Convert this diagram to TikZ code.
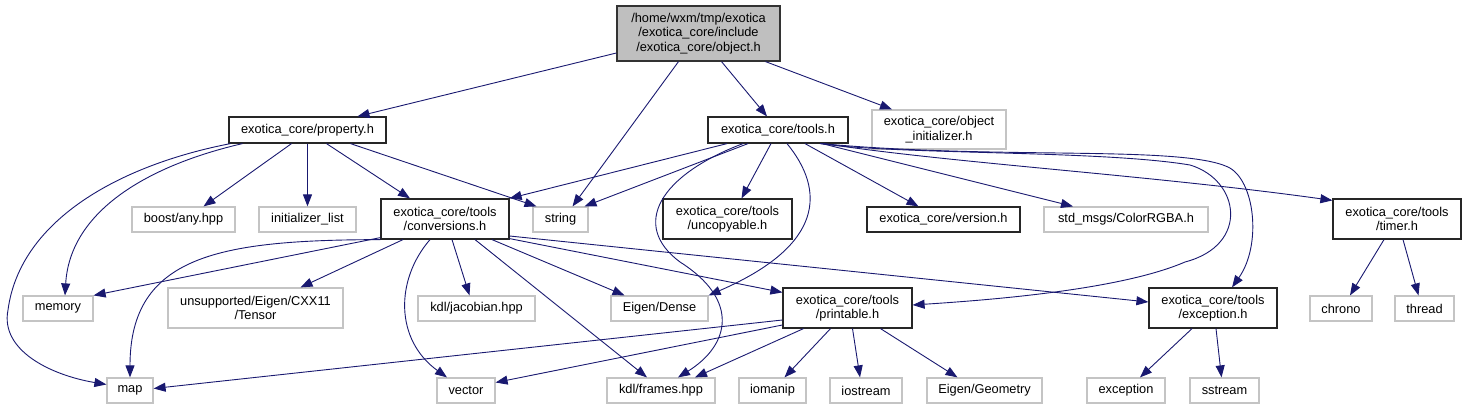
\documentclass[tikz,border=0pt]{standalone}
\usepackage{fontspec}
\setmainfont{Liberation Sans}
\usetikzlibrary{arrows.meta}
\definecolor{edgecol}{HTML}{191970}
\definecolor{undoc}{HTML}{C4C4C4}
\definecolor{rootfill}{HTML}{BFBFBF}
\tikzset{
  box/.style={draw, rectangle, inner sep=0pt, align=center, line width=1.2pt,
    font=\fontsize{12.8}{14.5}\selectfont, text=black},
  docbox/.style={box, draw=black!85},
  undocbox/.style={box, draw=undoc},
  rootbox/.style={box, draw=black!80, fill=rootfill},
  dep/.style={draw=edgecol, line width=0.9pt, -{Triangle[length=12pt,width=9pt]}, color=edgecol},
}
\begin{document}
\begin{tikzpicture}[x=1pt,y=-1pt]
\useasboundingbox (0,0) rectangle (1466,409);
% nodes
\node[rootbox, minimum width=163pt, minimum height=55pt] (obj) at (698.5,33.5)
  {/home/wxm/tmp/exotica\\/exotica\_core/include\hspace*{7pt}\\/exotica\_core/object.h};
\node[docbox, minimum width=157pt, minimum height=26pt] (prop) at (307.5,130) {exotica\_core/property.h};
\node[docbox, minimum width=140pt, minimum height=26pt] (tools) at (778,130) {exotica\_core/tools.h};
\node[undocbox, minimum width=134pt, minimum height=39pt] (init) at (939,129.5) {exotica\_core/object\\\_initializer.h};
\node[undocbox, minimum width=103pt, minimum height=25pt] (any) at (183.5,219.5) {boost/any.hpp};
\node[undocbox, minimum width=97pt, minimum height=25pt] (initl) at (307.5,219.5) {initializer\_list};
\node[docbox, minimum width=128pt, minimum height=40pt] (conv) at (445,219) {exotica\_core/tools\\/conversions.h};
\node[undocbox, minimum width=55pt, minimum height=25pt] (string) at (560.5,219.5) {string};
\node[docbox, minimum width=129pt, minimum height=40pt] (unc) at (727.5,219) {exotica\_core/tools\\/uncopyable.h};
\node[docbox, minimum width=153pt, minimum height=25pt] (version) at (943.5,219.5) {exotica\_core/version.h};
\node[undocbox, minimum width=164pt, minimum height=25pt] (color) at (1126,219.5) {std\_msgs/ColorRGBA.h};
\node[docbox, minimum width=128pt, minimum height=40pt] (timer) at (1397,219) {exotica\_core/tools\\/timer.h};
\node[undocbox, minimum width=70pt, minimum height=25pt] (memory) at (58,308.5) {memory};
\node[undocbox, minimum width=175pt, minimum height=40pt] (tensor) at (255.5,308) {unsupported/Eigen/CXX11\\/Tensor};
\node[undocbox, minimum width=117pt, minimum height=25pt] (jac) at (476.5,308.5) {kdl/jacobian.hpp};
\node[undocbox, minimum width=97pt, minimum height=25pt] (dense) at (659.5,308.5) {Eigen/Dense};
\node[docbox, minimum width=129pt, minimum height=40pt] (printable) at (847.5,308) {exotica\_core/tools\\/printable.h};
\node[docbox, minimum width=128pt, minimum height=40pt] (exch) at (1213,308) {exotica\_core/tools\\/exception.h};
\node[undocbox, minimum width=62pt, minimum height=25pt] (chrono) at (1341,308.5) {chrono};
\node[undocbox, minimum width=59pt, minimum height=25pt] (thread) at (1424.5,308.5) {thread};
\node[undocbox, minimum width=46pt, minimum height=25pt] (map) at (130,390.5) {map};
\node[undocbox, minimum width=58pt, minimum height=25pt] (vector) at (466,390.5) {vector};
\node[undocbox, minimum width=108pt, minimum height=25pt] (frames) at (661,390.5) {kdl/frames.hpp};
\node[undocbox, minimum width=67pt, minimum height=25pt] (iomanip) at (772.5,390.5) {iomanip};
\node[undocbox, minimum width=72pt, minimum height=25pt] (iostream) at (866,390.5) {iostream};
\node[undocbox, minimum width=115pt, minimum height=25pt] (geom) at (984.5,390.5) {Eigen/Geometry};
\node[undocbox, minimum width=78pt, minimum height=25pt] (exc) at (1126,390.5) {exception};
\node[undocbox, minimum width=69pt, minimum height=25pt] (sstream) at (1224.5,390.5) {sstream};
% object.h
\draw[dep] ([yshift=-19.5pt]obj.west) -- ([xshift=50pt]prop.north);
\draw[dep] ([xshift=-20pt]obj.south) -- ([xshift=12pt]string.north);
\draw[dep] ([xshift=23pt]obj.south) -- ([xshift=-11pt]tools.north);
\draw[dep] ([xshift=67pt]obj.south) -- ([xshift=-47pt]init.north);
% property.h
\draw[dep] ([xshift=-16pt]prop.south) -- ([xshift=20pt]any.north);
\draw[dep] (prop.south) -- (initl.north);
\draw[dep] ([xshift=19pt]prop.south) -- ([xshift=-35pt]conv.north);
\draw[dep] ([xshift=43pt]prop.south) -- ([xshift=-24pt]string.north);
\draw[dep] ([xshift=-65pt]prop.south) .. controls (150,165) and (70,210) .. ([xshift=7pt]memory.north);
\draw[dep] ([xshift=-77pt]prop.south) .. controls (120,165) and (20,220) .. (8,310)
  .. controls (0,350) and (50,375) .. ([yshift=6pt]map.west);
% tools.h
\draw[dep] ([xshift=-51pt]tools.south) -- (conv.north east);
\draw[dep] ([xshift=-30pt]tools.south) -- ([xshift=24pt]string.north);
\draw[dep] ([xshift=-7pt]tools.south) -- ([xshift=14pt]unc.north);
\draw[dep] ([xshift=27pt]tools.south) -- ([xshift=-25pt]version.north);
\draw[dep] ([xshift=44pt]tools.south) -- ([xshift=-53pt]color.north);
\draw[dep] ([xshift=46pt]tools.south) .. controls (950,163) and (1150,175) .. ([yshift=-2pt]timer.north west);
\draw[dep] ([xshift=-35pt]tools.south) .. controls (660,175) and (630,225) .. (680,262)
  .. controls (740,300) and (730,345) .. ([xshift=17pt]frames.north);
\draw[dep] ([xshift=9pt]tools.south) .. controls (825,190) and (825,245) .. (dense.north east);
\draw[dep] ([xshift=42pt]tools.south) .. controls (900,155) and (1100,150) .. (1190,165)
  .. controls (1240,180) and (1250,245) .. (1185,262)
  .. controls (1120,290) and (990,300) .. ([yshift=3pt]printable.east);
\draw[dep] ([xshift=43pt]tools.south) .. controls (1000,160) and (1180,145) .. (1228,167)
  .. controls (1255,180) and (1262,245) .. ([xshift=19pt]exch.north);
% conversions.h
\draw[dep] ([yshift=2pt]conv.south west) -- (memory.north east);
\draw[dep] (conv.south west) .. controls (220,240) and (130,255) .. (map.north);
\draw[dep] ([xshift=-42pt]conv.south) -- ([xshift=45pt]tensor.north);
\draw[dep] ([xshift=-15pt]conv.south) .. controls (395,280) and (395,340) .. ([xshift=-19pt]vector.north);
\draw[dep] ([xshift=7pt]conv.south) -- ([xshift=-7pt]jac.north);
\draw[dep] ([xshift=30pt]conv.south) -- ([xshift=-14pt]frames.north);
\draw[dep] ([xshift=47pt]conv.south) -- ([xshift=-35pt]dense.north);
\draw[dep] ([yshift=1pt]conv.south east) -- ([yshift=-5pt]printable.north west);
\draw[dep] ([yshift=-17pt]conv.east) -- ([yshift=6pt]exch.west);
% printable.h
\draw[dep] ([yshift=-12pt]printable.west) -- ([yshift=2pt]map.east);
\draw[dep] ([yshift=-17pt]printable.west) -- ([yshift=8pt]vector.east);
\draw[dep] ([xshift=-44pt]printable.south) -- ([xshift=34pt]frames.north);
\draw[dep] ([xshift=-17pt]printable.south) -- ([xshift=12pt]iomanip.north);
\draw[dep] ([xshift=5pt]printable.south) -- ([xshift=-6pt]iostream.north);
\draw[dep] ([xshift=33pt]printable.south) -- ([xshift=-27pt]geom.north);
% exception.h
\draw[dep] ([xshift=-21pt]exch.south) -- ([xshift=14pt]exc.north);
\draw[dep] ([xshift=3pt]exch.south) -- ([xshift=-3pt]sstream.north);
% timer.h
\draw[dep] ([xshift=-13pt]timer.south) -- ([xshift=9pt]chrono.north);
\draw[dep] ([xshift=6pt]timer.south) -- ([xshift=-6pt]thread.north);
\end{tikzpicture}
\end{document}
